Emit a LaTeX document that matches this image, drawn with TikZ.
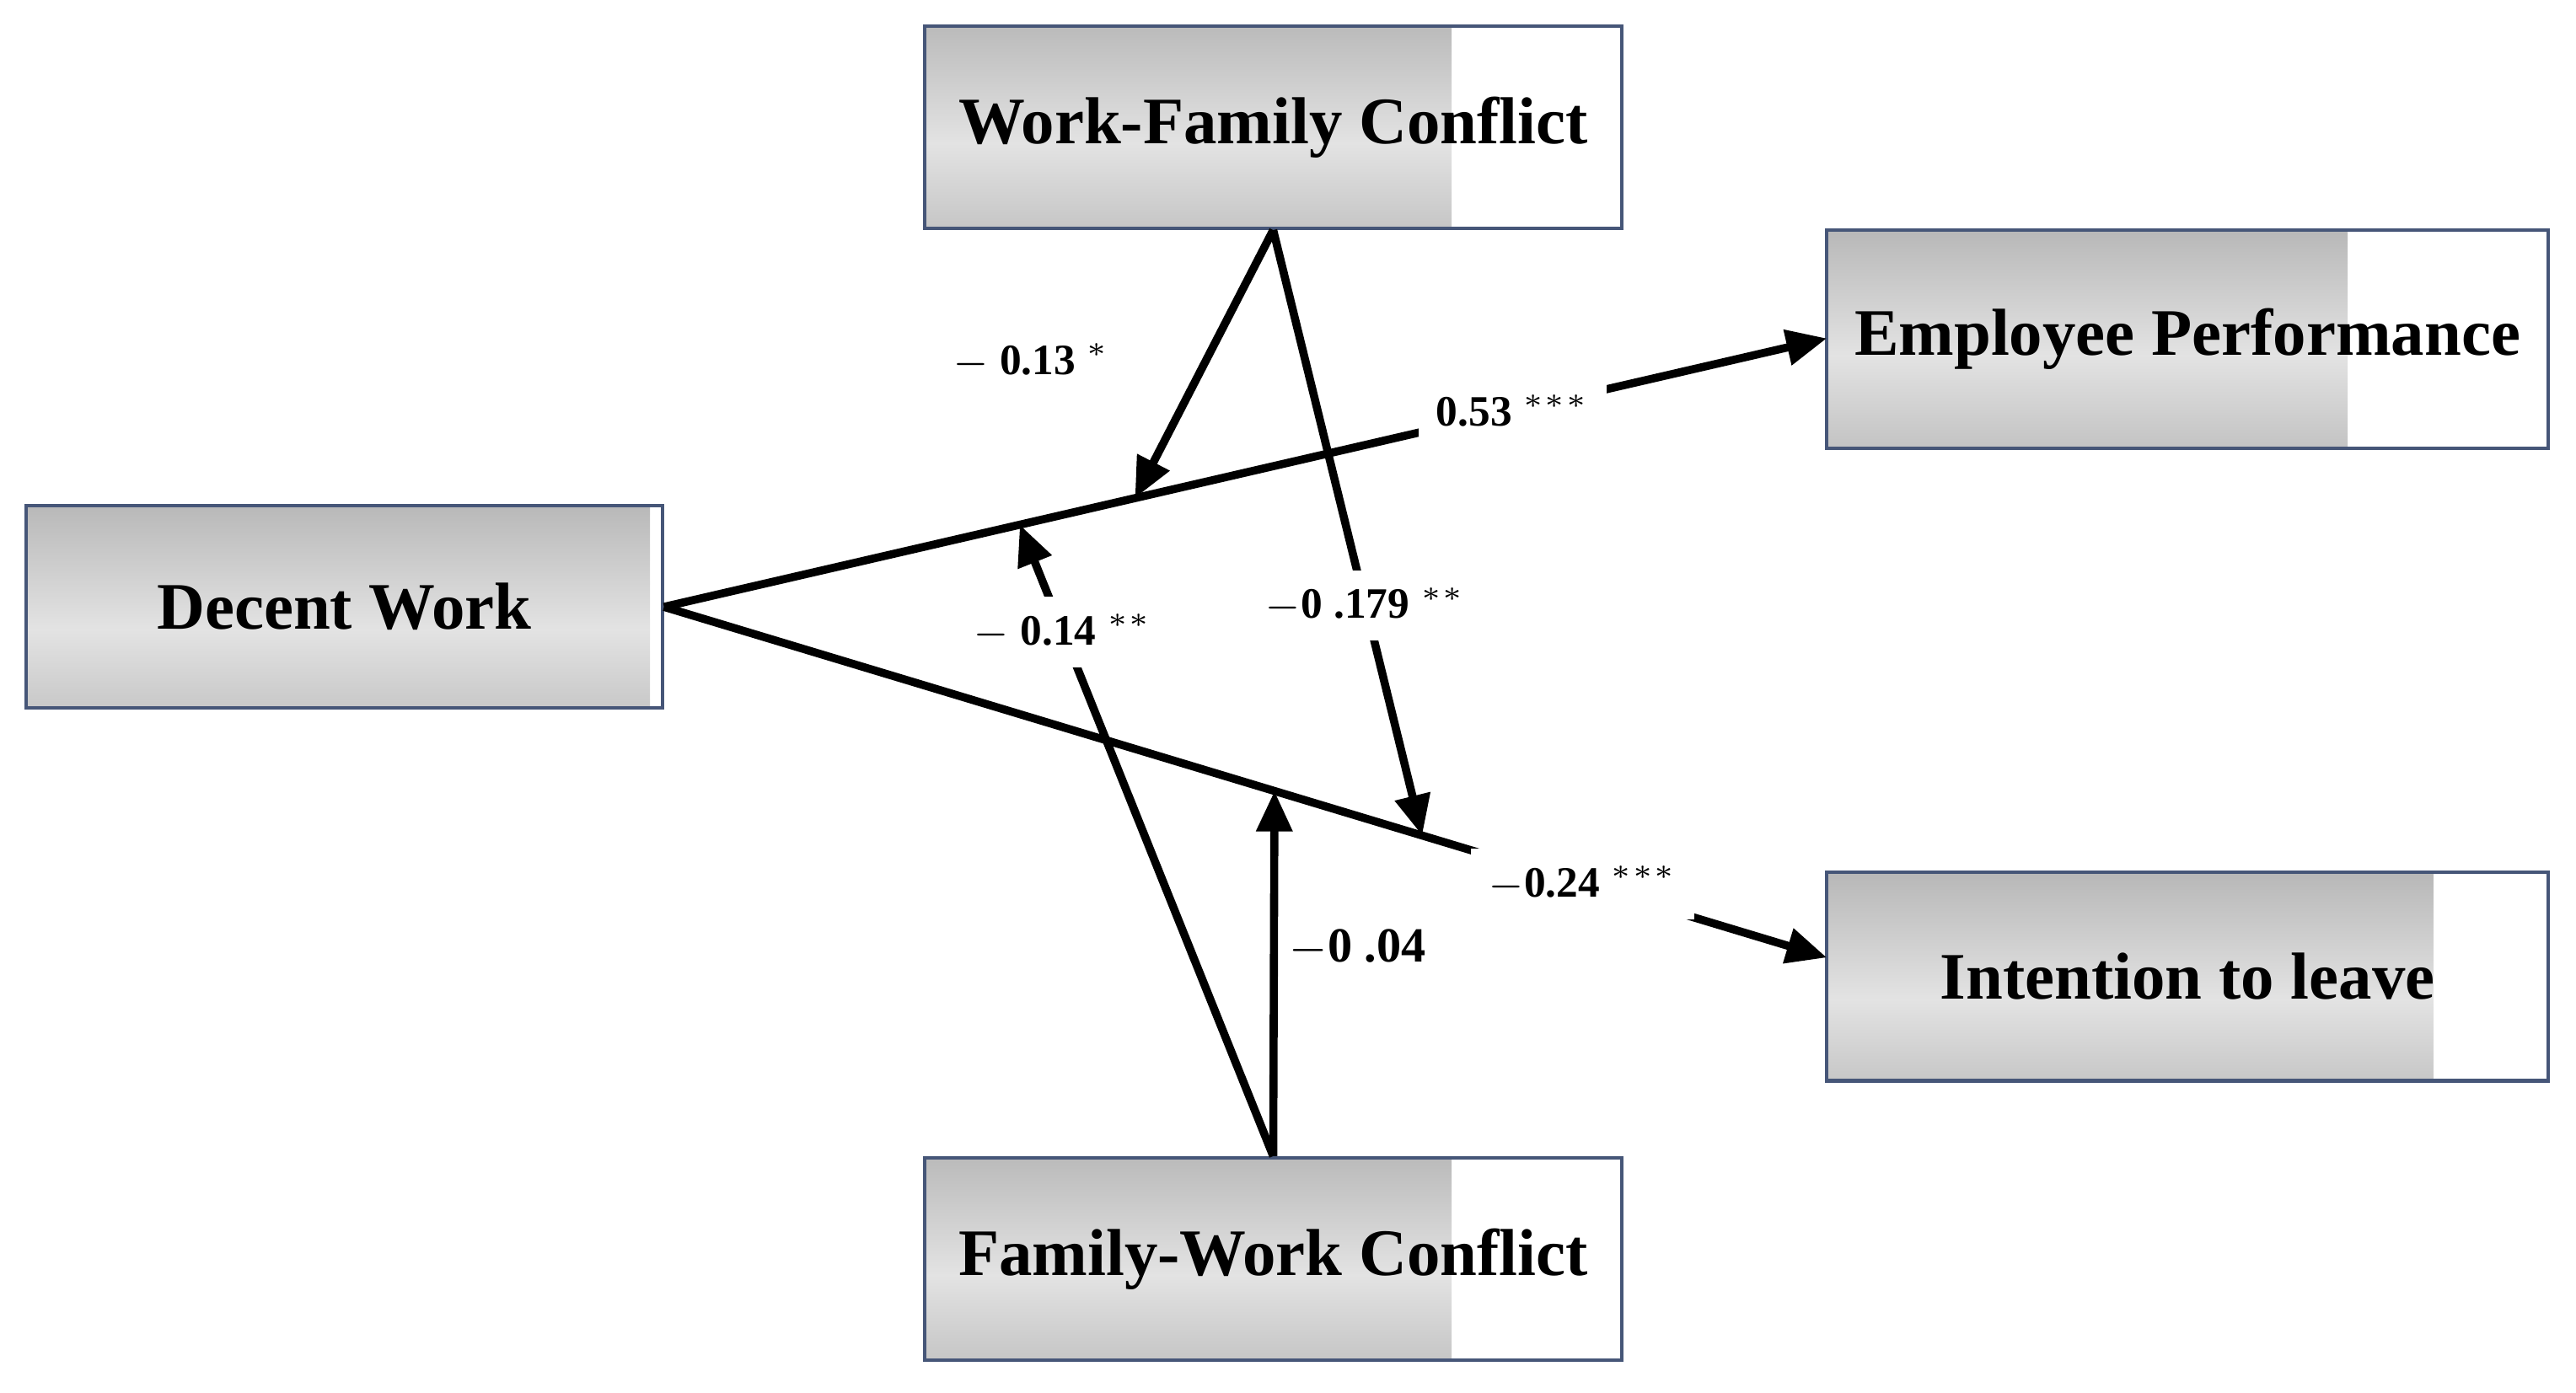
\documentclass[tikz,border=0pt]{standalone}
\usepackage{fontspec}
\setmainfont{Liberation Serif}
\usetikzlibrary{positioning,arrows.meta}
\definecolor{boxline}{RGB}{70,86,120}

\begin{document}
\begin{tikzpicture}[
    x=0.01cm, y=-0.01cm,
    >={Triangle[length=7pt,width=6pt]},
    box/.style={rectangle, draw=boxline, line width=0.6pt,
        path picture={\shade[top color=gray!75, bottom color=gray!75, middle color=gray!22,
            shift={(path picture bounding box.center)}, rotate=-16]
            (-3cm,-1.2cm) rectangle (3cm,1.2cm);},
        font=\fontsize{11.5}{13}\selectfont\bfseries},
    path/.style={line width=1.4pt},
    coef/.style={font=\fontsize{7.5}{9}\selectfont\bfseries, inner sep=1pt},
    gap/.style={coef, fill=white, inner sep=3pt},
]
    \useasboundingbox (0,0) rectangle (1568,848);

    \node[box, minimum width=4.24cm, minimum height=1.23cm] (wfc) at (775,77.5) {Work-Family Conflict};
    \node[box, minimum width=4.39cm, minimum height=1.33cm] (perf) at (1331.5,206.5) {Employee Performance};
    \node[box, minimum width=3.87cm, minimum height=1.23cm] (dw) at (209.5,369.5) {Decent Work};
    \node[box, minimum width=4.39cm, minimum height=1.27cm] (leave) at (1331.5,594.5) {Intention to leave};
    \node[box, minimum width=4.24cm, minimum height=1.23cm] (fwc) at (775,766.5) {Family-Work Conflict};

    % main paths
    \coordinate (top) at (1112,206);
    \coordinate (bot) at (1112,583);
    \draw[path,->] (dw.east) -- node[pos=0.73, gap] {0.53 $^{***}$} (top);
    \draw[path,->] (dw.east) -- node[pos=0.79, gap] {$-$0.24 $^{***}$} (bot);

    % points on the paths
    \path (dw.east) -- (top) coordinate[pos=0.405] (m1) coordinate[pos=0.306] (m2);
    \path (dw.east) -- (bot) coordinate[pos=0.652] (m3) coordinate[pos=0.525] (m4);

    % moderating effects
    \draw[path,->] (wfc.south) -- (m1);
    \draw[path,->] (wfc.south) -- node[pos=0.62, gap] {$-$0 .179 $^{**}$} (m3);
    \draw[path,->] (fwc.north) -- node[pos=0.83, gap] {$-$ 0.14 $^{**}$} (m2);
    \draw[path,->] (fwc.north) -- node[pos=0.57, right=1pt, coef, font=\fontsize{8.5}{10}\selectfont\bfseries] {$-$0 .04} (m4);

    \node[coef] (c1) at (628,220) {$-$ 0.13 $^{*}$};
\end{tikzpicture}
\end{document}
